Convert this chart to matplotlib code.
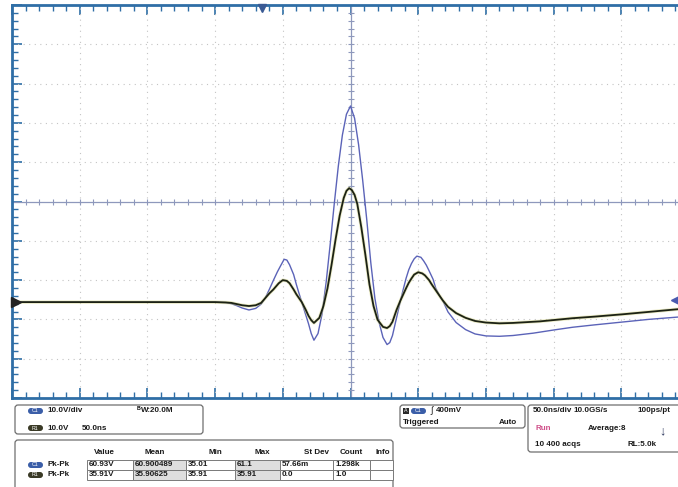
import numpy as np
import matplotlib
matplotlib.use('Agg')
import matplotlib.pyplot as plt
from matplotlib.patches import FancyBboxPatch, Rectangle

plt.rcParams['font.family'] = ['Liberation Sans', 'DejaVu Sans']

# 스코프 설정 (10 V/div, 50 ns/div)
volt_div = 10.0
time_div = 50.0
ref_offset = -2.56   # 기준선 위치 (div)

# C1 (파랑) 파형 - 시간(ns), 전압(V)
t_c1 = [-250, -100, -92, -88, -84, -80, -75, -70, -66, -63, -60, -57, -54, -52,
        -49, -47, -45, -42, -40, -38, -36, -33, -31, -29, -27, -24, -21, -18,
        -15, -12, -9, -6, -3, 0, 3, 6, 9, 12, 15, 18, 21, 24, 27, 29, 31, 34,
        37, 39, 41, 43, 45, 47, 49, 52, 54, 56, 58, 61, 63, 66, 68, 72, 78, 85,
        92, 100, 110, 120, 135, 150, 164, 180, 200, 220, 242, 250]
v_c1 = [0, 0, -0.1, -0.4, -0.9, -1.5, -2.0, -1.6, -0.5, 1.0, 3.2, 5.5, 7.7, 9.0,
        10.9, 10.7, 9.5, 7.0, 4.5, 2.2, 0, -3.3, -5.5, -8.0, -9.7, -8.0, -3.0,
        5.0, 14.7, 25.0, 34.6, 42.5, 47.8, 49.9, 46.8, 40.0, 31.0, 21.0, 10.0,
        1.0, -5.0, -9.0, -10.8, -10.3, -8.5, -4.0, 0.5, 3.3, 6.0, 8.2, 9.8,
        11.0, 11.7, 11.4, 10.5, 9.4, 8.0, 5.8, 3.5, 1.5, 0.5, -2.5, -5.2, -7.0,
        -8.1, -8.6, -8.7, -8.5, -7.9, -7.1, -6.4, -5.8, -5.1, -4.4, -3.8, -3.6]

# 기준 파형 (검정)
t_r1 = [-250, -100, -92, -88, -84, -80, -75, -70, -66, -63, -60, -57, -53, -50,
        -47, -45, -42, -40, -38, -36, -33, -31, -29, -27, -23, -20, -17, -14,
        -11, -8, -5, -3, -1, 1, 3, 5, 8, 11, 14, 17, 20, 24, 27, 29, 31, 34,
        37, 39, 41, 43, 45, 47, 50, 53, 55, 58, 60, 64, 68, 72, 78, 85, 92, 100,
        110, 120, 140, 164, 180, 201, 220, 242, 250]
v_r1 = [0, 0, -0.1, -0.2, -0.5, -0.8, -1.0, -0.8, -0.2, 1.0, 2.2, 3.2, 4.8, 5.6,
        5.4, 4.8, 3.2, 2.0, 1.0, 0, -2.0, -3.5, -4.6, -5.3, -4.0, -1.0, 3.5,
        9.5, 16.0, 22.0, 26.5, 28.3, 29.0, 28.5, 27.3, 25.0, 19.0, 12.0, 4.5,
        -1.0, -4.5, -6.3, -6.6, -6.1, -5.0, -2.0, 0.5, 2.0, 3.5, 4.9, 6.0, 7.0,
        7.6, 7.3, 6.8, 5.6, 4.5, 2.5, 0.5, -1.2, -2.8, -4.0, -4.8, -5.2, -5.4,
        -5.3, -4.9, -4.1, -3.7, -3.1, -2.5, -1.8, -1.7]

# 측정 테이블
headers = ['Value', 'Mean', 'Min', 'Max', 'St Dev', 'Count', 'Info']
row_c1 = ['60.93V', '60.900489', '35.01', '61.1', '57.66m', '1.298k', '']
row_r1 = ['35.91V', '35.90625', '35.91', '35.91', '0.0', '1.0', '']

W, H = 678, 487
fig = plt.figure(figsize=(W / 100, H / 100), dpi=100)

# 파형 화면
ax = fig.add_axes([12 / W, (H - 398) / H, (W - 12) / W, (398 - 5) / H])
ax.set_facecolor('white')

# 정보 패널 (픽셀 좌표, 파형 위에 그림)
info = fig.add_axes([0, 0, 1, 1], zorder=3)
info.set_xlim(0, W)
info.set_ylim(H, 0)
info.axis('off')

frame = '#2f6ea6'
grid_c = '#c4c4c4'
for gx in range(-4, 5):
    if gx != 0:
        ax.axvline(gx, color=grid_c, lw=0.8, ls=(0, (1, 4)))
for gy in range(-4, 5):
    if gy != 0:
        ax.axhline(gy, color=grid_c, lw=0.8, ls=(0, (1, 4)))

# 가운데 십자선
cross = '#8e98bc'
ax.axhline(0, color=cross, lw=0.9)
ax.axvline(0, color=cross, lw=0.9)
mx = np.arange(-5, 5.01, 0.2)
ax.plot(mx, np.zeros_like(mx), ls='none', marker='|', ms=4, mew=0.8, color=cross)
ax.plot(np.zeros_like(mx), mx, ls='none', marker='_', ms=4, mew=0.8, color=cross)

# 파형
t1 = np.array(t_c1) / time_div
y1 = np.array(v_c1) / volt_div + ref_offset
t2 = np.array(t_r1) / time_div
y2 = np.array(v_r1) / volt_div + ref_offset
ax.plot(t1, y1, color='#5b63b8', lw=1.0)
ax.plot(t2, y2, color='#d6d68a', lw=2.4, alpha=0.5)
ax.plot(t2, y2, color='#1c2214', lw=1.3)

ax.set_xticks(np.arange(-5, 5.01, 1))
ax.set_xticks(np.arange(-5, 5.01, 0.2), minor=True)
ax.set_yticks(np.arange(-5, 5.01, 1))
ax.set_yticks(np.arange(-5, 5.01, 0.2), minor=True)
ax.set_xlim(-5, (W - 350.5) / 67.7)
ax.set_ylim(-5, 5)
ax.tick_params(which='both', direction='in', top=True, bottom=True, left=True,
               right=False, labelbottom=False, labelleft=False, color=frame)
ax.tick_params(which='major', length=7, width=1.2)
ax.tick_params(which='minor', length=4, width=1.0)
for s in ['left', 'top', 'bottom']:
    ax.spines[s].set_color(frame)
    ax.spines[s].set_linewidth(2)
ax.spines['right'].set_visible(False)

# 마커들
info.plot(262, 8, marker='v', ms=6, color='#3a5a94')
info.plot(16, 302, marker='>', ms=7, color='#222222')
info.plot(675, 300, marker='<', ms=6, color='#4a5ab0')

fs = 5.8
txt = dict(fontsize=fs, fontweight='bold', va='center', color='#1a1a1a')


def box(x, y, w, h):
    info.add_patch(FancyBboxPatch((x, y), w, h, boxstyle='round,pad=0,rounding_size=3',
                                  fc='white', ec='#6e6e6e', lw=0.9))


def pill(x, y, label, fc):
    info.add_patch(FancyBboxPatch((x, y - 3), 15, 6, boxstyle='round,pad=0,rounding_size=3',
                                  fc=fc, ec='none'))
    info.text(x + 7.5, y, label, fontsize=3.8, color='white', ha='center', va='center')


blue_pill = '#3b5ea8'
dark_pill = '#3a3a26'

# 채널 박스
box(15, 405, 188, 29)
pill(28, 411, 'C1', blue_pill)
info.text(47, 411, '10.0V/div', **txt)
info.text(137, 408.5, 'B', fontsize=3.8, fontweight='bold', va='center')
info.text(140.5, 411, 'W:20.0M', **txt)
pill(28, 428, 'R1', dark_pill)
info.text(47, 428, '10.0V', **txt)
info.text(82, 428, '50.0ns', **txt)

# 측정 테이블
box(15, 440, 378, 50)
col_x = [87, 133, 186, 235, 280, 333, 370, 393]
head_x = [104, 155, 215, 262, 316, 351, 383]
for hx, h in zip(head_x, headers):
    info.text(hx, 452, h, ha='center', **txt)
for r, (row, lab, pc) in enumerate([(row_c1, 'C1', blue_pill), (row_r1, 'R1', dark_pill)]):
    yc = 465 + r * 10
    pill(28, yc, lab, pc)
    info.text(47, yc, 'Pk-Pk', **txt)
    for c, val in enumerate(row):
        x0, x1 = col_x[c], col_x[c + 1]
        fc = '#dedede' if c in (1, 3) else 'white'
        info.add_patch(Rectangle((x0, yc - 5), x1 - x0, 10, fc=fc, ec='#7a7a7a', lw=0.7))
        info.text(x0 + 2, yc, val, **txt)

# 트리거 박스
box(400, 405, 125, 23)
info.add_patch(Rectangle((403, 407.5), 6, 6.5, fc='#2a2a2a', ec='none'))
info.text(406, 410.8, 'A', fontsize=3.8, color='white', ha='center', va='center')
pill(411, 411, 'C1', blue_pill)
info.text(430, 411, '\u222b', fontsize=6.5, va='center', color='#1a1a1a')
info.text(436, 411, '400mV', **txt)
info.text(403, 423, 'Triggered', **txt)
info.text(517, 423, 'Auto', ha='right', **txt)

# 타임베이스 박스
box(528, 405, 160, 47)
info.text(533, 411, '50.0ns/div', **txt)
info.text(573, 411, '10.0GS/s', **txt)
info.text(670, 411, '100ps/pt', ha='right', **txt)
info.text(535, 428, 'Run', fontsize=fs, fontweight='bold', va='center', color='#d0508a')
info.text(588, 428, 'Average:8', **txt)
info.text(662, 431, '\u2193', fontsize=9, fontweight='bold', ha='center', va='center', color='#303a60')
info.text(535, 444, '10 400 acqs', **txt)
info.text(627, 444, 'RL:5.0k', **txt)

fig.savefig('out.png', dpi=100)
